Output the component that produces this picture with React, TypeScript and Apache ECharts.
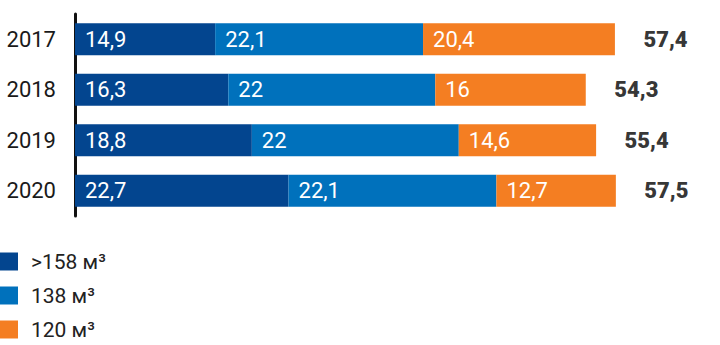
import React, { useEffect, useRef } from "react";
import * as echarts from "echarts";

const years = ["2017", "2018", "2019", "2020"];
const over158 = [14.9, 16.3, 18.8, 22.7];
const m138 = [22.1, 22, 22, 22.1];
const m120 = [20.4, 16, 14.6, 12.7];
const totals = [57.4, 54.3, 55.4, 57.5];
const seriesNames = [">158 м³", "138 м³", "120 м³"];

const FONT = "Roboto, 'Open Sans', sans-serif";
const colors = ["#03458F", "#0071BC", "#F47E22"];
const fmt = (v: number) => String(v).replace(".", ",");

export default function App() {
  const ref = useRef<HTMLDivElement>(null);
  useEffect(() => {
    if (!ref.current) return;
    const chart = echarts.init(ref.current, undefined, { renderer: "svg" });
    const values = [over158, m138, m120];
    const barSeries = values.map((arr, i) => ({
      name: seriesNames[i],
      type: "bar",
      stack: "total",
      barWidth: 32,
      data: arr,
      itemStyle: { color: colors[i] },
      label: {
        show: true,
        position: "insideLeft",
        distance: 10,
        color: "#fff",
        fontSize: 22,
        fontFamily: FONT,
        formatter: (p: any) => fmt(p.value),
      },
    }));
    chart.setOption({
      animation: false,
      textStyle: { fontFamily: FONT },
      grid: { left: 75, right: 43, top: 14, bottom: 129, containLabel: false },
      xAxis: { type: "value", min: 0, max: 64, show: false },
      yAxis: {
        type: "category",
        inverse: true,
        data: years,
        axisLine: { show: true, lineStyle: { color: "#111", width: 3 } },
        axisTick: { show: false },
        axisLabel: { fontSize: 22, color: "#1a1a1a", margin: 19, fontFamily: FONT },
      },
      legend: {
        orient: "vertical",
        left: 0,
        top: 251,
        height: 100,
        padding: 0,
        itemWidth: 18,
        itemHeight: 18,
        itemGap: 13,
        icon: "rect",
        data: seriesNames,
        textStyle: {
          fontSize: 21,
          lineHeight: 18,
          color: "#222",
          fontFamily: FONT,
          padding: [0, 0, 0, 8],
        },
      },
      series: [
        ...barSeries,
        {
          type: "scatter",
          data: totals.map((t, i) => [t, years[i]]),
          symbolSize: 1,
          itemStyle: { color: "transparent" },
          silent: true,
          label: {
            show: true,
            position: "right",
            distance: 28,
            color: "#000",
            fontSize: 22,
            fontWeight: 900,
            fontFamily: FONT,
            formatter: (p: any) => fmt(p.value[0]),
          },
        },
      ],
    });
    return () => chart.dispose();
  }, []);
  return (
    <div
      ref={ref}
      style={{ position: "fixed", left: 0, top: 0, width: 720, height: 345, background: "#fff" }}
    />
  );
}
